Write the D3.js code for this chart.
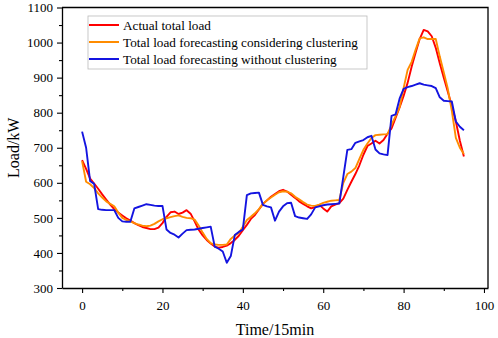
<!DOCTYPE html>
<html>
<head>
<meta charset="utf-8">
<script src="https://cdn.jsdelivr.net/npm/d3@7"></script>
<style>
  body { margin: 0; background: #fff; }
  text { font-family: "Liberation Serif", "Times New Roman", serif; }
</style>
</head>
<body>
<svg id="chart"></svg>
<script>
// Series, one value per 15 min step (0..95)
const actualLoad = [665, 640, 612, 598, 583, 567, 552, 538, 525, 515,
    507, 499, 492, 485, 479, 474, 471, 468, 468, 472,
    485, 503, 516, 518, 511, 515, 522, 512, 490, 466,
    450, 437, 427, 418, 415, 417, 421, 428, 437, 449,
    465, 480, 497, 508, 524, 540, 550, 560, 568, 576,
    580, 575, 566, 557, 547, 540, 533, 527, 531, 537,
    527, 518, 533, 538, 542, 555, 580, 603, 625, 650,
    680, 705, 712, 720, 712, 722, 740, 755, 785, 815,
    848, 885, 931, 972, 1010, 1036, 1032, 1018, 985, 941,
    900, 860, 820, 775, 720, 675];

const withClustering = [662, 603, 596, 585, 570, 558, 547, 540, 533, 515,
    500, 494, 490, 485, 481, 478, 476, 478, 483, 490,
    496, 499, 502, 505, 507, 503, 500, 499, 495, 478,
    458, 440, 428, 424, 423, 423, 424, 440, 450, 457,
    475, 494, 503, 513, 525, 540, 550, 558, 566, 573,
    576, 575, 570, 560, 553, 545, 538, 535, 534, 538,
    543, 546, 549, 550, 551, 600, 625, 632, 642, 668,
    694, 712, 728, 736, 737, 738, 739, 765, 790, 815,
    870, 922, 945, 980, 1012, 1015, 1010, 1010, 1010, 960,
    915, 868, 805, 728, 700, 682];

const withoutClustering = [746, 700, 605, 597, 525, 523, 522, 522, 522, 500,
    490, 489, 489, 527, 531, 535, 539, 537, 535, 534,
    534, 467, 457, 452, 444, 455, 465, 466, 467, 469,
    471, 473, 475, 418, 412, 404, 372, 391, 451, 460,
    467, 565, 570, 571, 572, 537, 533, 530, 492, 518,
    533, 542, 543, 505, 501, 499, 497, 510, 530, 533,
    536, 538, 539, 540, 541, 617, 694, 696, 714, 718,
    722, 730, 734, 695, 684, 681, 679, 791, 795, 840,
    868, 873, 876, 880, 884, 880, 878, 876, 870, 844,
    834, 833, 832, 775, 760, 750];

const seriesNames = ['Actual total load',
    'Total load forecasting considering clustering',
    'Total load forecasting without clustering'];
const seriesColors = ['#ff0000', '#ff8c00', '#1414e0'];

const xTicks = [0, 20, 40, 60, 80, 100];
const yTicks = [300, 400, 500, 600, 700, 800, 900, 1000, 1100];

const width = 498, height = 338;
const margin = { top: 7.5, right: 10, bottom: 50, left: 62 };

const svg = d3.select('#chart')
    .attr('width', width)
    .attr('height', height);

const x = d3.scaleLinear()
    .domain([-5, 101])
    .range([margin.left, width - margin.right]);

const y = d3.scaleLinear()
    .domain([300, 1100])
    .range([height - margin.bottom, margin.top]);

const x0 = margin.left, x1 = width - margin.right;
const y0 = height - margin.bottom, y1 = margin.top;

// frame on top and right
svg.append('path')
    .attr('d', `M${x0},${y1}H${x1}V${y0}`)
    .attr('fill', 'none')
    .attr('stroke', '#000')
    .attr('stroke-width', 1.3);

// lines
const series = [actualLoad, withClustering, withoutClustering];
const line = d3.line()
    .x((d, i) => x(i))
    .y(d => y(d));

series.forEach((s, k) => {
    svg.append('path')
        .datum(s)
        .attr('d', line)
        .attr('fill', 'none')
        .attr('stroke', seriesColors[k])
        .attr('stroke-width', 1.9)
        .attr('stroke-linejoin', 'round');
});

// x axis with minor ticks
const xMinor = svg.append('g')
    .attr('transform', `translate(0,${y0})`)
    .call(d3.axisBottom(x).tickValues(d3.range(10, 100, 20)).tickSize(3).tickFormat(''));
xMinor.select('.domain').remove();
const xMajor = svg.append('g')
    .attr('transform', `translate(0,${y0})`)
    .call(d3.axisBottom(x).tickValues(xTicks).tickSize(5).tickPadding(8).tickSizeOuter(0).tickFormat(d3.format('d')));
xMajor.select('.domain').attr('stroke-width', 1.3);

// y axis with minor ticks
const yMinor = svg.append('g')
    .attr('transform', `translate(${x0},0)`)
    .call(d3.axisLeft(y).tickValues(d3.range(350, 1100, 100)).tickSize(3).tickFormat(''));
yMinor.select('.domain').remove();
const yMajor = svg.append('g')
    .attr('transform', `translate(${x0},0)`)
    .call(d3.axisLeft(y).tickValues(yTicks).tickSize(5).tickPadding(4).tickSizeOuter(0).tickFormat(d3.format('d')));
yMajor.select('.domain').attr('stroke-width', 1.3);

svg.selectAll('g').attr('font-family', null);
svg.selectAll('.tick text')
    .attr('font-size', '13px')
    .attr('fill', '#000');
svg.selectAll('.tick line').attr('stroke-width', 1.1);

// axis titles
svg.append('text')
    .attr('x', (x0 + x1) / 2)
    .attr('y', 335)
    .attr('text-anchor', 'middle')
    .attr('font-size', '16px')
    .text('Time/15min');

svg.append('text')
    .attr('transform', `translate(19,${(y0 + y1) / 2}) rotate(-90)`)
    .attr('text-anchor', 'middle')
    .attr('font-size', '16px')
    .text('Load/kW');

// legend
const legend = svg.append('g').attr('transform', 'translate(88,16)');
legend.append('rect')
    .attr('width', 279)
    .attr('height', 53)
    .attr('fill', '#fff')
    .attr('stroke', '#bbb')
    .attr('stroke-width', 0.8);

seriesNames.forEach((name, k) => {
    const ly = 9 + k * 17;
    legend.append('line')
        .attr('x1', 1).attr('x2', 31)
        .attr('y1', ly).attr('y2', ly)
        .attr('stroke', seriesColors[k])
        .attr('stroke-width', 2);
    legend.append('text')
        .attr('x', 35)
        .attr('y', ly + 4.5)
        .attr('font-size', '13.2px')
        .text(name);
});
</script>
</body>
</html>
